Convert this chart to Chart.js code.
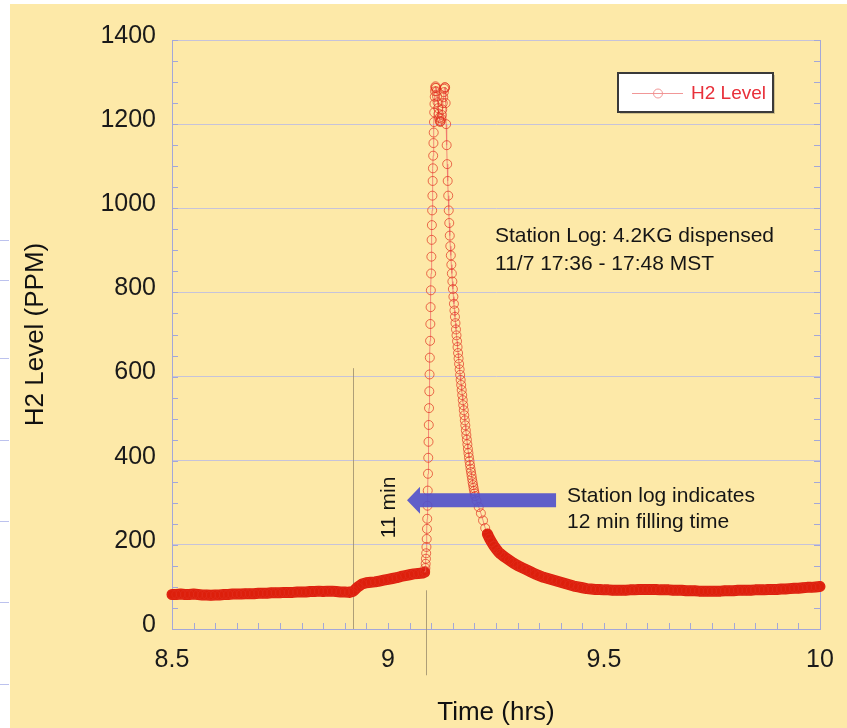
<!DOCTYPE html>
<html>
<head>
<meta charset="utf-8">
<script src="https://cdn.jsdelivr.net/npm/chart.js@4.4.1/dist/chart.umd.min.js"></script>
<style>
html,body{margin:0;padding:0;background:#fff}
canvas{display:block}
</style>
</head>
<body>
<canvas id="chartCanvas" width="847" height="728"></canvas>
<script>
// H2 level readings, time in hours
const baseTimes = [8.50,8.51,8.52,8.53,8.54,8.55,8.56,8.57,8.58,8.59,8.60,8.61,8.62,8.63,8.64,8.65,8.66,8.67,8.68,8.69,
    8.70,8.71,8.72,8.73,8.74,8.75,8.76,8.77,8.78,8.79,8.80,8.81,8.82,8.83,8.84,8.85,8.86,8.87,8.88,8.89,
    8.90,8.91,8.92,8.93,8.94,8.95,8.96,8.97,8.98,8.99,9.00,9.01,9.02,9.03,9.04,9.05,9.06,9.07,9.08,9.085]
const basePpm = [82,82,83,82,82,83,82,81,81,80,81,81,82,82,83,83,83,84,84,84,
    85,85,85,86,86,86,87,87,87,88,88,88,89,89,90,89,90,90,89,88,
    88,87,90,100,107,110,111,112,114,116,118,120,122,125,127,129,131,132,133,135]

const riseTimes = [9.0860,9.0866,9.0872,9.0878,9.0884,9.0890,9.0896,9.0902,9.0908,9.0914,
    9.0920,9.0926,9.0932,9.0938,9.0944,9.0950,9.0956,9.0962,9.0968,9.0974,
    9.0980,9.0986,9.0992,9.0998,9.1004,9.1010,9.1016,9.1022,9.1028,9.1034,
    9.1040,9.1046,9.1052,9.1058,9.1064,9.1070,9.1076,9.1082,9.1088,9.1094,9.1100]
const risePpm = [138,145,155,167,180,195,214,238,262,293,
    329,369,407,445,485,525,565,605,645,685,
    725,765,805,845,885,925,960,995,1030,1065,
    1095,1125,1155,1180,1205,1228,1248,1265,1278,1287,1290]

const peakTimes = [9.1112,9.1124,9.1136,9.1148,9.1160,9.1172,9.1184,9.1196,9.1208,
    9.1220,9.1232,9.1244,9.1256,9.1268,9.1280,9.1292,9.1304,9.1316]
const peakPpm = [1286,1278,1266,1252,1238,1225,1215,1208,1205,
    1207,1213,1222,1235,1250,1264,1276,1284,1288]

const decayTimes = [9.1322,9.1334,9.1346,9.1358,9.1370,9.1382,9.1394,9.1406,9.1418,9.1430,
    9.1442,9.1454,9.1466,9.1478,9.1490,9.1502,9.1514,9.1526,9.1538,9.1550,
    9.1562,9.1574,9.1586,9.1598,9.1610,9.1622,9.1634,9.1646,9.1658,9.1670,
    9.1682,9.1694,9.1706,9.1718,9.1730,9.1742,9.1754,9.1766,9.1778,9.1790,
    9.1802,9.1814,9.1826,9.1838,9.1850,9.1862,9.1874,9.1886,9.1898,9.1910,
    9.1922,9.1934,9.1946,9.1958,9.1970,9.1982,9.1994,9.2006,9.2018]
const decayPpm = [1287,1250,1200,1150,1105,1065,1030,995,965,935,
    910,888,866,845,826,808,790,773,757,742,
    727,712,698,684,670,656,643,630,617,604,
    592,580,568,556,544,532,520,508,496,484,
    472,461,450,439,428,418,408,399,390,381,
    373,365,357,349,342,335,328,322,316]

const tailTimes = [9.205,9.21,9.215,9.22,9.225,9.23,9.235,9.24,9.245,9.25,9.255,9.26,
    9.27,9.28,9.29,9.30,9.31,9.32,9.33,9.34,9.35,9.36,9.37,9.38,9.39,9.40,
    9.41,9.42,9.43,9.44,9.45,9.46,9.47,9.48,9.49,9.50,9.51,9.52,9.53,9.54,
    9.55,9.56,9.57,9.58,9.59,9.60,9.61,9.62,9.63,9.64,9.65,9.66,9.67,9.68,
    9.69,9.70,9.71,9.72,9.73,9.74,9.75,9.76,9.77,9.78,9.79,9.80,9.81,9.82,
    9.83,9.84,9.85,9.86,9.87,9.88,9.89,9.90,9.91,9.92,9.93,9.94,9.95,9.96,
    9.97,9.98,9.99,10.00]
const tailPpm = [305,290,275,258,240,226,215,206,198,191,184,179,
    171,164,157,151,146,141,136,131,127,123,120,117,114,111,
    108,105,102,100,98,96,95,94,94,93,93,92,92,92,
    92,93,93,94,94,94,94,94,93,93,93,92,92,92,
    91,91,91,90,90,90,90,90,90,91,91,91,92,92,
    92,92,93,93,93,94,94,94,95,95,96,97,97,98,
    99,99,100,101]

const xTicks = [8.5, 9, 9.5, 10]
const yTicks = [0, 200, 400, 600, 800, 1000, 1200, 1400]

// annotation anchors, in data units
const markerLines = [{t: 8.918, from: 620, to: 0}, {t: 9.088, from: 92, to: -110}]
const arrowTail = {t: 9.389, v: 306}
const arrowHead = {t: 9.044, v: 306}
const notes = [
    {text: "Station Log: 4.2KG dispensed", t: 9.2477, v: 920},
    {text: "11/7 17:36 - 17:48 MST", t: 9.2477, v: 853},
    {text: "Station log indicates", t: 9.4144, v: 302},
    {text: "12 min filling time", t: 9.4144, v: 240}
]
const sideNote = {text: "11 min", t: 9.0162, v: 216}

const FONT = '"Liberation Sans", Arial, Helvetica, sans-serif'
const AXIS = "#a3a7d9"
const sideMarks = [240, 280, 358, 440, 521, 602, 684]

function pairUp(ts, vs){
    return ts.map((t, i) => ({x: t, y: vs[i]}))
}

const points = [].concat(
    pairUp(baseTimes, basePpm),
    pairUp(riseTimes, risePpm),
    pairUp(peakTimes, peakPpm),
    pairUp(decayTimes, decayPpm),
    pairUp(tailTimes, tailPpm)
)

// dense, slow stretches get the solid band look; steep or tightly sampled ones stay thin
function band(ctx){
    const dx = Math.abs(ctx.p1.x - ctx.p0.x)
    const dy = Math.abs(ctx.p1.y - ctx.p0.y)
    return dx >= 1.5 && dy <= 2.5 * dx
}

const decor = {
    id: "decor",
    beforeDraw(chart){
        const c = chart.ctx
        c.save()
        c.fillStyle = "#ffffff"
        c.fillRect(0, 0, chart.width, chart.height)
        c.fillStyle = "#fde9a8"
        c.fillRect(10, 4, chart.width - 10, chart.height - 4)
        c.strokeStyle = "#bcc2ee"
        c.lineWidth = 1
        sideMarks.forEach(y => {
            c.beginPath(); c.moveTo(0, y + 0.5); c.lineTo(9, y + 0.5); c.stroke()
        })
        c.restore()
    },
    beforeDatasetsDraw(chart){
        const {ctx: c, chartArea: a, scales: {x, y}} = chart
        c.save()
        c.strokeStyle = AXIS
        c.lineWidth = 1
        // right frame
        c.beginPath(); c.moveTo(a.right + 0.5, a.top); c.lineTo(a.right + 0.5, a.bottom); c.stroke()
        // minor ticks, pointing inward
        for (let i = 0; i <= 30; i++) {
            const px = Math.round(x.getPixelForValue(8.5 + i * 0.05)) + 0.5
            c.beginPath(); c.moveTo(px, a.bottom); c.lineTo(px, a.bottom - 6); c.stroke()
        }
        for (let i = 0; i <= 28; i++) {
            const py = Math.round(y.getPixelForValue(i * 50)) + 0.5
            c.beginPath(); c.moveTo(a.left, py); c.lineTo(a.left + 6, py); c.stroke()
            c.beginPath(); c.moveTo(a.right, py); c.lineTo(a.right - 6, py); c.stroke()
        }
        // fill-time markers
        c.strokeStyle = "rgba(160,145,110,0.85)"
        markerLines.forEach(m => {
            const px = Math.round(x.getPixelForValue(m.t)) + 0.5
            c.beginPath()
            c.moveTo(px, y.getPixelForValue(m.from))
            c.lineTo(px, y.getPixelForValue(m.to))
            c.stroke()
        })
        c.restore()
    },
    afterDatasetsDraw(chart){
        const {ctx: c, scales: {x, y}} = chart
        c.save()
        // arrow
        const tx = x.getPixelForValue(arrowTail.t)
        const hx = x.getPixelForValue(arrowHead.t)
        const ay = y.getPixelForValue(arrowTail.v)
        c.fillStyle = "rgba(82,82,204,0.92)"
        c.beginPath()
        c.moveTo(tx, ay - 7)
        c.lineTo(hx + 13, ay - 7)
        c.lineTo(hx + 13, ay - 13.5)
        c.lineTo(hx, ay)
        c.lineTo(hx + 13, ay + 13.5)
        c.lineTo(hx + 13, ay + 7)
        c.lineTo(tx, ay + 7)
        c.closePath()
        c.fill()
        // notes
        c.fillStyle = "#151515"
        c.font = "21px " + FONT
        c.textBaseline = "alphabetic"
        c.textAlign = "left"
        notes.forEach(n => c.fillText(n.text, x.getPixelForValue(n.t), y.getPixelForValue(n.v)))
        c.translate(x.getPixelForValue(sideNote.t), y.getPixelForValue(sideNote.v))
        c.rotate(-Math.PI / 2)
        c.fillText(sideNote.text, 0, 0)
        c.restore()
    },
    afterDraw(chart){
        const c = chart.ctx
        c.save()
        c.fillStyle = "rgba(0,0,0,0.18)"
        c.fillRect(620, 75, 155, 39)
        c.fillStyle = "#ffffff"
        c.fillRect(618, 73, 155, 39)
        c.strokeStyle = "#3a3a3a"
        c.lineWidth = 2
        c.strokeRect(618, 73, 155, 39)
        c.strokeStyle = "rgba(240,140,140,0.9)"
        c.lineWidth = 1
        c.beginPath(); c.moveTo(632, 93.5); c.lineTo(683, 93.5); c.stroke()
        c.beginPath(); c.arc(658, 93.5, 4.5, 0, Math.PI * 2); c.stroke()
        c.fillStyle = "#e8303a"
        c.font = "19px " + FONT
        c.textBaseline = "middle"
        c.fillText(chart.data.datasets[0].label, 691, 94)
        c.restore()
    }
}

const ctx = document.getElementById("chartCanvas")

new Chart(ctx, {
    type: "line",
    data: {
        datasets: [{
            label: "H2 Level",
            data: points,
            clip: 10,
            borderColor: "#dd1f0b",
            borderWidth: 11,
            borderCapStyle: "round",
            borderJoinStyle: "round",
            segment: {
                borderWidth: c => band(c) ? 11 : 1,
                borderColor: c => band(c) ? "#dd1f0b" : "rgba(240,120,110,0.85)"
            },
            pointRadius: 4.5,
            pointBorderWidth: 1,
            pointBorderColor: "rgba(224,44,28,0.68)",
            pointBackgroundColor: "rgba(0,0,0,0)",
            tension: 0
        }]
    },
    options: {
        responsive: false,
        animation: false,
        devicePixelRatio: 1,
        layout: {padding: {top: 40, right: 27, left: 0, bottom: 0}},
        plugins: {legend: {display: false}, tooltip: {enabled: false}},
        scales: {
            x: {
                type: "linear",
                min: 8.5,
                max: 10,
                afterBuildTicks: s => { s.ticks = xTicks.map(v => ({value: v})) },
                afterFit: s => { s.height = 99; s.paddingLeft = 0; s.paddingRight = 0 },
                ticks: {
                    callback: v => String(v),
                    font: {family: FONT, size: 25},
                    color: "#1a1a1a",
                    padding: 16,
                    maxRotation: 0,
                    autoSkip: false
                },
                grid: {display: false, drawTicks: false},
                border: {color: AXIS, width: 1},
                title: {
                    display: true,
                    text: "Time (hrs)",
                    font: {family: FONT, size: 26},
                    color: "#111",
                    padding: {top: 0, bottom: 0}
                }
            },
            y: {
                min: 0,
                max: 1400,
                afterBuildTicks: s => { s.ticks = yTicks.map(v => ({value: v})) },
                afterFit: s => { s.width = 172 },
                ticks: {
                    callback: v => String(v),
                    font: {family: FONT, size: 25},
                    color: "#1a1a1a",
                    padding: 16,
                    labelOffset: -4
                },
                grid: {color: "#c6c3da", lineWidth: 1, drawTicks: false},
                border: {color: AXIS, width: 1},
                title: {
                    display: true,
                    text: "H2 Level (PPM)",
                    font: {family: FONT, size: 26},
                    color: "#111",
                    padding: {top: 20, bottom: 0}
                }
            }
        }
    },
    plugins: [decor]
})
</script>
</body>
</html>
